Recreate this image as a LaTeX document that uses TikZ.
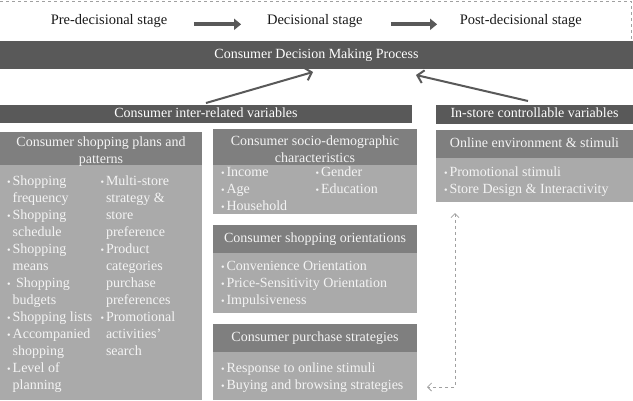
\documentclass[tikz,border=0pt]{standalone}
\usepackage{fontspec}
\usepackage{graphicx}
\setmainfont{Liberation Serif}
\usetikzlibrary{arrows.meta}
\definecolor{barc}{HTML}{595959}
\definecolor{hdrc}{HTML}{7F7F7F}
\definecolor{bdyc}{HTML}{AAAAAA}
\definecolor{txtc}{HTML}{F4F4F4}
\definecolor{stagec}{HTML}{1A1A1A}
\definecolor{linkc}{HTML}{A0A0A0}
\newcommand\bu{\makebox[5.5pt][l]{\raisebox{0pt}{\scalebox{0.72}{\textbullet}}}}
\newcommand\myitem[1]{\hbox{\bu#1}}
\newcommand\mycont[1]{\hbox{\hspace{5.5pt}#1}}
\newcommand\mylines[1]{\vtop{\baselineskip=17pt\lineskiplimit=-20pt\lineskip=0pt #1}}
\newcommand\myclines[1]{\vtop{\baselineskip=17pt\lineskiplimit=-20pt\lineskip=0pt\halign{\hfil##\hfil\cr#1\cr}}}
\begin{document}
\begin{tikzpicture}[x=1pt,y=-1pt,
  every node/.style={inner sep=0pt,outer sep=0pt},
  barbox/.style={fill=barc,text=white,anchor=north west,font=\fontsize{14}{17}\selectfont,text height=9.5pt,text depth=3pt},
  hdrbox/.style={fill=hdrc,text=txtc,anchor=north west,font=\fontsize{14}{17}\selectfont,text height=9.5pt,text depth=3pt},
  hdrtext/.style={text=txtc,anchor=base,font=\fontsize{14}{17}\selectfont},
  bdybox/.style={fill=bdyc,anchor=north west},
  itemtext/.style={text=txtc,anchor=base west,font=\fontsize{14}{17}\selectfont},
  stagetext/.style={text=stagec,font=\fontsize{14.5}{17}\selectfont},
  stagearrow/.style={draw=barc,line width=4pt,-{Triangle[length=7pt,width=11pt]}},
  mainarrow/.style={draw=barc,line width=2pt,-{Straight Barb[length=6pt,width=13pt]}},
  linkarrow/.style={draw=linkc,dashed,line width=0.8pt,{Straight Barb[length=4pt,width=8pt]}-{Straight Barb[length=4pt,width=8pt]}}]
\useasboundingbox (0,0) rectangle (633,400);
\fill[white] (0,0) rectangle (633,400);
% dashed frame of the stages
\draw[dashed,linkc,line width=0.8pt] (0,1) -- (631,1) -- (631,40);
% stages
\node[stagetext] (pre) at (109,21.5) {Pre-decisional stage};
\node[stagetext] (dec) at (314.8,21.5) {Decisional stage};
\node[stagetext] (post) at (520.8,21.5) {Post-decisional stage};
\draw[stagearrow,shorten <=26.7pt,shorten >=26pt] ([yshift=-2.8pt]pre.east) -- ([yshift=-2.8pt]dec.west);
\draw[stagearrow,shorten <=28.3pt,shorten >=22.7pt] ([yshift=-2.8pt]dec.east) -- ([yshift=-2.8pt]post.west);
% main bar
\node[barbox,minimum width=633pt,minimum height=28pt] (cdmp) at (0,41) {Consumer Decision Making Process};
% category bars
\node[barbox,minimum width=412pt,minimum height=18pt] (irv) at (0,105) {Consumer inter-related variables};
\node[barbox,minimum width=197pt,minimum height=19pt] (isc) at (436,105) {In-store controllable variables};
\draw[mainarrow] ([yshift=2pt]irv.north) -- ([shift={(-3.5pt,-3pt)}]cdmp.south);
\draw[mainarrow] ([shift={(-6.5pt,4pt)}]isc.north) -- ([shift={(99.5pt,-6pt)}]cdmp.south);
% left box
\node[hdrbox,minimum width=202pt,minimum height=33pt] (h1) at (0,132) {};
\node[bdybox,minimum width=202pt,minimum height=235pt] (b1) at (0,165) {};
\node[hdrtext] (h1t) at (101,146.8) {\myclines{Consumer shopping plans and\cr patterns}};
\node[itemtext] (b1c1) at (7.2,185) {\mylines{\myitem{Shopping}\mycont{frequency}\myitem{Shopping}\mycont{schedule}\myitem{Shopping}\mycont{means}\myitem{\ Shopping}\mycont{budgets}\myitem{Shopping lists}\myitem{Accompanied}\mycont{shopping}\myitem{Level of}\mycont{planning}}};
\node[itemtext] (b1c2) at (100.5,185) {\mylines{\myitem{Multi-store}\mycont{strategy \&}\mycont{store}\mycont{preference}\myitem{Product}\mycont{categories}\mycont{purchase}\mycont{preferences}\myitem{Promotional}\mycont{activities’}\mycont{search}}};
% socio-demographic
\node[hdrbox,minimum width=204pt,minimum height=36pt] (h2) at (213,129) {};
\node[bdybox,minimum width=204pt,minimum height=49pt] (b2) at (213,165) {};
\node[hdrtext] (h2t) at (315,145.5) {\myclines{Consumer socio-demographic\cr characteristics}};
\node[itemtext] (b2c1) at (221,176.5) {\mylines{\myitem{Income}\myitem{Age}\myitem{Household}}};
\node[itemtext] (b2c2) at (315.5,176.5) {\mylines{\myitem{Gender}\myitem{Education}}};
% shopping orientations
\node[hdrbox,minimum width=204pt,minimum height=28pt] (h3) at (213,225) {Consumer shopping orientations};
\node[bdybox,minimum width=204pt,minimum height=60pt] (b3) at (213,253) {};
\node[itemtext] (b3c1) at (221,270) {\mylines{\myitem{Convenience Orientation}\myitem{Price-Sensitivity Orientation}\myitem{Impulsiveness}}};
% purchase strategies
\node[hdrbox,minimum width=204pt,minimum height=28pt] (h4) at (213,324) {Consumer purchase strategies};
\node[bdybox,minimum width=204pt,minimum height=48pt] (b4) at (213,352) {};
\node[itemtext] (b4c1) at (221,372.5) {\mylines{\myitem{Response to online stimuli}\myitem{Buying and browsing strategies}}};
% online environment
\node[hdrbox,minimum width=197pt,minimum height=28pt] (h5) at (436,130) {Online environment \& stimuli};
\node[bdybox,minimum width=197pt,minimum height=44pt] (b5) at (436,158) {};
\node[itemtext] (b5c1) at (444,176) {\mylines{\myitem{Promotional stimuli}\myitem{Store Design \& Interactivity}}};
% dashed link
\draw[linkarrow] ([shift={(19pt,-11pt)}]b5.south west) |- ([shift={(10pt,-11pt)}]b4.east);
\end{tikzpicture}
\end{document}
